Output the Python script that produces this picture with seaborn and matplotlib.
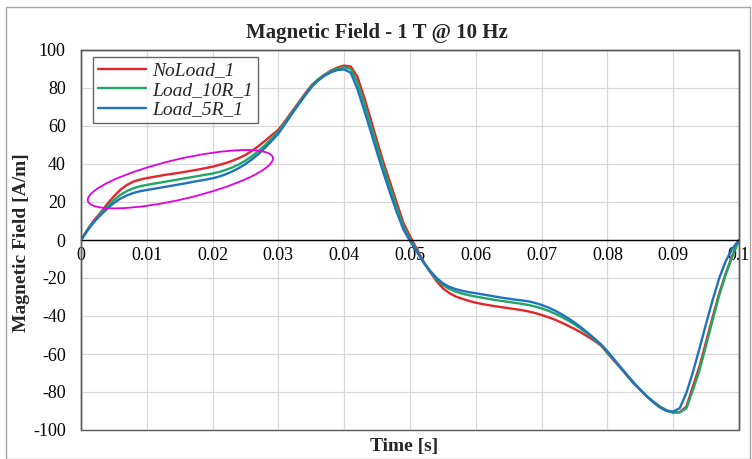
import numpy as np
import pandas as pd
import matplotlib
matplotlib.use("Agg")
import matplotlib.pyplot as plt
import seaborn as sns
from matplotlib.patches import Ellipse, Rectangle
from matplotlib.transforms import ScaledTranslation

# time axis: samples every 1 ms from 0 to 0.1 s
time = np.round(np.arange(0, 101) * 0.001, 3)

noload_1 = [0, 5.5, 10.5, 14.5, 19, 23, 26.5, 29, 30.8, 31.8,
            32.6, 33.2, 33.8, 34.4, 34.9, 35.4, 36, 36.6, 37.2, 37.9,
            38.6, 39.5, 40.5, 41.7, 43.1, 44.8, 47, 49.5, 52.3, 55.2,
            58, 62.5, 67.3, 72, 76.8, 81.3, 84.5, 87, 89.2, 90.8,
            91.8, 91.3, 86, 75.5, 64, 52, 40.5, 30, 19.5, 9,
            2, -4.5, -11, -16.5, -21.5, -25.4, -28, -29.8, -31, -32.1,
            -33, -33.7, -34.3, -34.9, -35.4, -35.9, -36.4, -36.9, -37.6, -38.4,
            -39.5, -40.6, -41.9, -43.4, -45.1, -46.8, -48.7, -50.8, -53, -55.5,
            -59.5, -63.5, -67.4, -71.5, -75.5, -79, -82.3, -85.2, -87.7, -89.6,
            -90.9, -90.6, -87.7, -77, -66.5, -53.5, -40.5, -28, -17.5, -8, 0]

load_10r_1 = [0, 5.3, 10, 13.8, 17.5, 21, 23.8, 25.8, 27.3, 28.3,
              29, 29.6, 30.2, 30.8, 31.4, 32, 32.6, 33.2, 33.8, 34.4,
              35, 35.8, 36.9, 38.2, 39.8, 41.8, 44.2, 46.9, 50, 53.5,
              57, 61.8, 66.7, 71.5, 76.3, 80.8, 84.2, 86.8, 88.8, 90.3,
              91, 90, 83, 72.5, 61, 49.2, 38, 27.4, 17, 7,
              0.5, -5.5, -11.5, -16.5, -20.5, -23.7, -25.8, -27.2, -28.3, -29.1,
              -29.8, -30.4, -31, -31.6, -32.1, -32.6, -33.1, -33.6, -34.2, -35,
              -36, -37.2, -38.7, -40.4, -42.3, -44.4, -46.8, -49.4, -52.2, -55.2,
              -59, -63.1, -67.2, -71.3, -75.3, -78.9, -82.2, -85.2, -87.8, -89.8,
              -90.8, -90.7, -88.5, -79, -68.5, -55.5, -42, -29, -18, -8.5, 0]

load_5r_1 = [0, 5.1, 9.6, 13.2, 16.5, 19.5, 21.8, 23.5, 24.8, 25.7,
             26.3, 26.9, 27.5, 28.1, 28.7, 29.3, 29.9, 30.6, 31.2, 31.8,
             32.5, 33.4, 34.6, 36.1, 37.9, 40, 42.5, 45.3, 48.6, 52.2,
             56, 61, 66, 71, 75.8, 80.3, 83.8, 86.4, 88.3, 89.5,
             89.8, 88, 79.5, 68.8, 57.5, 46, 35, 24.5, 14.5, 5.5,
             -0.5, -6, -11.5, -16, -19.8, -22.8, -24.7, -25.9, -26.8, -27.5,
             -28, -28.6, -29.2, -29.8, -30.4, -30.9, -31.4, -31.8, -32.3, -33.1,
             -34.2, -35.5, -37.1, -39, -41.1, -43.4, -46, -48.8, -51.8, -54.8,
             -58.5, -62.7, -66.9, -71, -75, -78.8, -82.3, -85.5, -88.2, -90,
             -90.3, -88.5, -80.5, -69.5, -57, -44, -31.5, -20, -11, -4.5, 0]

series_names = ["NoLoad_1", "Load_10R_1", "Load_5R_1"]
x_ticks = [0, 0.01, 0.02, 0.03, 0.04, 0.05, 0.06, 0.07, 0.08, 0.09, 0.1]
x_tick_labels = ["0", "0.01", "0.02", "0.03", "0.04", "0.05", "0.06", "0.07", "0.08", "0.09", "0.1"]
y_ticks = [-100, -80, -60, -40, -20, 0, 20, 40, 60, 80, 100]

df = pd.concat([
    pd.DataFrame({"Time": time, "H": vals, "Series": name})
    for name, vals in zip(series_names, [noload_1, load_10r_1, load_5r_1])
])

sns.set_style("white")
plt.rcParams["font.family"] = ["Liberation Serif", "DejaVu Serif"]
plt.rcParams["axes.unicode_minus"] = False

fig = plt.figure(figsize=(7.52, 4.59), dpi=100)
ax = fig.add_axes([81/752, 1-430/459, (739-81)/752, (430-50)/459])

palette = {"NoLoad_1": "#e3262b", "Load_10R_1": "#1fa763", "Load_5R_1": "#1f72bf"}
sns.lineplot(data=df, x="Time", y="H", hue="Series", palette=palette, linewidth=1.7,
             ax=ax, legend=False, sort=False)

ax.set_xlim(0, 0.1)
ax.set_ylim(-100, 100)
ax.set_xticks(x_ticks)
ax.set_xticklabels(x_tick_labels)
ax.set_yticks(y_ticks)
ax.grid(True, color="#d9d9d9", linewidth=0.9)
ax.set_axisbelow(True)

for s in ["top", "right", "left"]:
    ax.spines[s].set_color("#595959")
    ax.spines[s].set_linewidth(1.0)
ax.spines["bottom"].set_position(("data", 0))
ax.spines["bottom"].set_color("black")
ax.spines["bottom"].set_linewidth(1.0)
ax.add_patch(Rectangle((0, 0), 1, 1, transform=ax.transAxes, fill=False,
                       edgecolor="#595959", linewidth=1.0, zorder=5, clip_on=False))

ax.tick_params(axis="both", length=0, labelsize=13, colors="black")
ax.tick_params(axis="x", pad=5)
ax.tick_params(axis="y", pad=11)

ax.set_xlabel("")
ax.set_ylabel("")
fig.text(404/752, 1-446/459, "Time [s]", ha="center", va="center", fontsize=14, fontweight="bold")
fig.text(22/752, 1-243/459, "Magnetic Field [A/m]", ha="center", va="center", rotation=90,
         fontsize=14, fontweight="bold")
fig.text(377/752, 1-33/459, "Magnetic Field - 1 T @ 10 Hz", ha="center", va="center",
         fontsize=15, fontweight="bold")

handles = [plt.Line2D([], [], color=palette[n], linewidth=1.7) for n in series_names]
leg = ax.legend(handles, series_names, loc="upper left", bbox_to_anchor=(12/658, 1-7/380),
                frameon=True, fancybox=False, borderpad=0.25, handlelength=2.5,
                handletextpad=0.3, labelspacing=0.1, borderaxespad=0,
                prop={"family": "Liberation Serif", "style": "italic", "size": 14})
leg.get_frame().set_edgecolor("#404040")
leg.get_frame().set_linewidth(1.0)

# annotation ellipse (pixel-sized, centred in data coordinates)
cx, cy = 0.0151, 32.0
trans = fig.dpi_scale_trans + ScaledTranslation(cx, cy, ax.transData)
ax.add_patch(Ellipse((0, 0), width=190/100, height=40/100, angle=13.2, transform=trans,
                     fill=False, edgecolor="#e000e0", linewidth=1.3, zorder=6, clip_on=False))

fig.add_artist(Rectangle((6/752, 0.5/459), 744/752, 1-7.5/459, transform=fig.transFigure,
                         fill=False, edgecolor="#a6a6a6", linewidth=1.0))

fig.savefig("out.png", dpi=100)
